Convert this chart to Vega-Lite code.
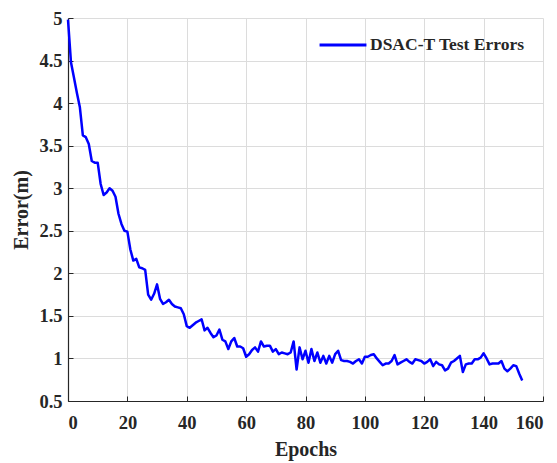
{
  "$schema": "https://vega.github.io/schema/vega-lite/v6.json",
  "width": 475,
  "height": 383,
  "autosize": {"type": "none"},
  "padding": {"left": 68, "top": 18, "right": 14, "bottom": 62},
  "background": "white",
  "config": {
    "view": {"stroke": null},
    "font": "Liberation Serif",
    "axis": {
      "grid": true,
      "gridColor": "#dcdcdc",
      "gridWidth": 1,
      "domainColor": "#262626",
      "domainWidth": 1.2,
      "tickColor": "#262626",
      "tickSize": -5,
      "labelFont": "Liberation Serif",
      "labelFontWeight": "bold",
      "labelFontSize": 18.5,
      "labelColor": "#262626",
      "titleFont": "Liberation Serif",
      "titleFontWeight": "bold",
      "titleFontSize": 20,
      "titleColor": "#262626"
    }
  },
  "data": {
    "values": [
      {"epoch": 0, "error": 4.98}, {"epoch": 1, "error": 4.48}, {"epoch": 2, "error": 4.30}, {"epoch": 3, "error": 4.12},
      {"epoch": 4, "error": 3.95}, {"epoch": 5, "error": 3.62}, {"epoch": 6, "error": 3.60}, {"epoch": 7, "error": 3.52},
      {"epoch": 8, "error": 3.32}, {"epoch": 9, "error": 3.30}, {"epoch": 10, "error": 3.30}, {"epoch": 11, "error": 3.05},
      {"epoch": 12, "error": 2.92}, {"epoch": 13, "error": 2.95}, {"epoch": 14, "error": 3.00}, {"epoch": 15, "error": 2.97},
      {"epoch": 16, "error": 2.90}, {"epoch": 17, "error": 2.70}, {"epoch": 18, "error": 2.58}, {"epoch": 19, "error": 2.50},
      {"epoch": 20, "error": 2.49}, {"epoch": 21, "error": 2.28}, {"epoch": 22, "error": 2.15}, {"epoch": 23, "error": 2.17},
      {"epoch": 24, "error": 2.07}, {"epoch": 25, "error": 2.06}, {"epoch": 26, "error": 2.04}, {"epoch": 27, "error": 1.75},
      {"epoch": 28, "error": 1.69}, {"epoch": 29, "error": 1.76}, {"epoch": 30, "error": 1.87}, {"epoch": 31, "error": 1.70},
      {"epoch": 32, "error": 1.64}, {"epoch": 33, "error": 1.66}, {"epoch": 34, "error": 1.69}, {"epoch": 35, "error": 1.64},
      {"epoch": 36, "error": 1.61}, {"epoch": 37, "error": 1.60}, {"epoch": 38, "error": 1.59}, {"epoch": 39, "error": 1.52},
      {"epoch": 40, "error": 1.38}, {"epoch": 41, "error": 1.36}, {"epoch": 42, "error": 1.39}, {"epoch": 43, "error": 1.42},
      {"epoch": 44, "error": 1.44}, {"epoch": 45, "error": 1.46}, {"epoch": 46, "error": 1.33}, {"epoch": 47, "error": 1.36},
      {"epoch": 48, "error": 1.30}, {"epoch": 49, "error": 1.25}, {"epoch": 50, "error": 1.27}, {"epoch": 51, "error": 1.34},
      {"epoch": 52, "error": 1.22}, {"epoch": 53, "error": 1.20}, {"epoch": 54, "error": 1.11}, {"epoch": 55, "error": 1.20},
      {"epoch": 56, "error": 1.24}, {"epoch": 57, "error": 1.14}, {"epoch": 58, "error": 1.14}, {"epoch": 59, "error": 1.12},
      {"epoch": 60, "error": 1.02}, {"epoch": 61, "error": 1.05}, {"epoch": 62, "error": 1.10}, {"epoch": 63, "error": 1.13},
      {"epoch": 64, "error": 1.08}, {"epoch": 65, "error": 1.20}, {"epoch": 66, "error": 1.14}, {"epoch": 67, "error": 1.15},
      {"epoch": 68, "error": 1.15}, {"epoch": 69, "error": 1.08}, {"epoch": 70, "error": 1.11}, {"epoch": 71, "error": 1.05},
      {"epoch": 72, "error": 1.07}, {"epoch": 73, "error": 1.06}, {"epoch": 74, "error": 1.05}, {"epoch": 75, "error": 1.07},
      {"epoch": 76, "error": 1.20}, {"epoch": 77, "error": 0.87}, {"epoch": 78, "error": 1.13}, {"epoch": 79, "error": 0.99},
      {"epoch": 80, "error": 1.09}, {"epoch": 81, "error": 0.95}, {"epoch": 82, "error": 1.11}, {"epoch": 83, "error": 0.97},
      {"epoch": 84, "error": 1.07}, {"epoch": 85, "error": 0.95}, {"epoch": 86, "error": 1.03}, {"epoch": 87, "error": 0.94},
      {"epoch": 88, "error": 1.03}, {"epoch": 89, "error": 0.95}, {"epoch": 90, "error": 1.05}, {"epoch": 91, "error": 1.09},
      {"epoch": 92, "error": 0.98}, {"epoch": 93, "error": 0.97}, {"epoch": 94, "error": 0.97}, {"epoch": 95, "error": 0.96},
      {"epoch": 96, "error": 0.94}, {"epoch": 97, "error": 0.97}, {"epoch": 98, "error": 0.99}, {"epoch": 99, "error": 0.94},
      {"epoch": 100, "error": 1.02}, {"epoch": 101, "error": 1.02}, {"epoch": 102, "error": 1.04}, {"epoch": 103, "error": 1.05},
      {"epoch": 104, "error": 1.00}, {"epoch": 105, "error": 0.96}, {"epoch": 106, "error": 0.92}, {"epoch": 107, "error": 0.94},
      {"epoch": 108, "error": 0.94}, {"epoch": 109, "error": 0.97}, {"epoch": 110, "error": 1.04}, {"epoch": 111, "error": 0.93},
      {"epoch": 112, "error": 0.95}, {"epoch": 113, "error": 0.97}, {"epoch": 114, "error": 0.99}, {"epoch": 115, "error": 0.96},
      {"epoch": 116, "error": 0.94}, {"epoch": 117, "error": 0.99}, {"epoch": 118, "error": 0.98}, {"epoch": 119, "error": 0.97},
      {"epoch": 120, "error": 0.94}, {"epoch": 121, "error": 0.96}, {"epoch": 122, "error": 0.99}, {"epoch": 123, "error": 0.91},
      {"epoch": 124, "error": 0.96}, {"epoch": 125, "error": 0.93}, {"epoch": 126, "error": 0.92}, {"epoch": 127, "error": 0.86},
      {"epoch": 128, "error": 0.88}, {"epoch": 129, "error": 0.95}, {"epoch": 130, "error": 0.97}, {"epoch": 131, "error": 1.00},
      {"epoch": 132, "error": 1.03}, {"epoch": 133, "error": 0.84}, {"epoch": 134, "error": 0.93}, {"epoch": 135, "error": 0.94},
      {"epoch": 136, "error": 0.94}, {"epoch": 137, "error": 0.99}, {"epoch": 138, "error": 0.99}, {"epoch": 139, "error": 1.01},
      {"epoch": 140, "error": 1.06}, {"epoch": 141, "error": 1.00}, {"epoch": 142, "error": 0.93}, {"epoch": 143, "error": 0.94},
      {"epoch": 144, "error": 0.94}, {"epoch": 145, "error": 0.94}, {"epoch": 146, "error": 0.97}, {"epoch": 147, "error": 0.88},
      {"epoch": 148, "error": 0.85}, {"epoch": 149, "error": 0.88}, {"epoch": 150, "error": 0.92}, {"epoch": 151, "error": 0.91},
      {"epoch": 152, "error": 0.82}, {"epoch": 153, "error": 0.74}
    ]
  },
  "mark": {"type": "line", "strokeWidth": 2.5, "strokeJoin": "round"},
  "encoding": {
    "x": {
      "field": "epoch", "type": "quantitative",
      "scale": {"domain": [0, 160], "nice": false},
      "axis": {"title": "Epochs", "values": [0, 20, 40, 60, 80, 100, 120, 140, 160], "labelPadding": 17, "titlePadding": 8}
    },
    "y": {
      "field": "error", "type": "quantitative",
      "scale": {"domain": [0.5, 5], "nice": false, "zero": false},
      "axis": {"title": "Error(m)", "format": "~g", "values": [0.5, 1, 1.5, 2, 2.5, 3, 3.5, 4, 4.5, 5], "labelPadding": 11, "titlePadding": 7}
    },
    "color": {
      "datum": "DSAC-T Test Errors",
      "type": "nominal",
      "scale": {"range": ["#0000ff"]},
      "legend": {
        "title": null,
        "orient": "none",
        "legendX": 250,
        "legendY": 2,
        "symbolType": "stroke",
        "symbolSize": 2200,
        "symbolStrokeWidth": 3,
        "labelFont": "Liberation Serif",
        "labelFontWeight": "bold",
        "labelFontSize": 17.5,
        "labelColor": "#262626",
        "labelOffset": 2
      }
    }
  }
}
